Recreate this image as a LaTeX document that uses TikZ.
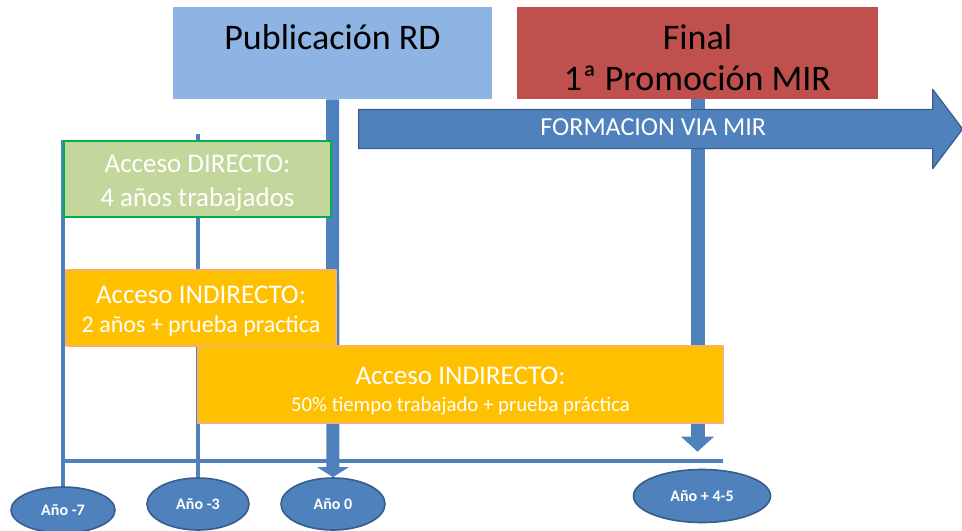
\documentclass[tikz,border=0pt]{standalone}
\usepackage{fontspec}
\setmainfont{Carlito}
\usetikzlibrary{arrows.meta,shapes.geometric,shapes.arrows,backgrounds}
\definecolor{pubblue}{HTML}{8EB4E3}
\definecolor{finred}{HTML}{C0504D}
\definecolor{midblue}{HTML}{4F81BD}
\definecolor{edgeblue}{HTML}{385D8A}
\definecolor{dirgreen}{HTML}{C3D69B}
\definecolor{dirline}{HTML}{00B050}
\definecolor{indorange}{HTML}{FFC000}
\definecolor{indline}{HTML}{F5B36A}
\begin{document}
\begin{tikzpicture}[x=0.5pt,y=-0.5pt, line join=round,
  box/.style={rectangle, inner sep=0pt, align=center},
  yearnode/.style={ellipse, draw=edgeblue, fill=midblue, line width=0.8pt, inner sep=0pt,
    text=white, font=\fontsize{8}{10}\selectfont\bfseries},
  tick/.style={midblue, line width=2pt},
  bigfont/.style={font=\fontsize{18}{20.5}\selectfont}]
\def \xmin{0};
\def \xmax{962};
\def \ymin{0};
\def \ymax{530};
\useasboundingbox (\xmin,\ymin) rectangle (\xmax,\ymax);
% titles
\node[box, fill=pubblue, bigfont, minimum width=159.5pt, minimum height=46pt] (pub) at (332.5,53) {Publicación RD\\[-4.5pt]\mbox{}};
\node[box, fill=finred, bigfont, minimum width=180.5pt, minimum height=46pt] (fin) at (697.5,53) {\rule{0pt}{17.5pt}Final\\1ª Promoción MIR};
\node[single arrow, anchor=tail, fill=midblue, draw=edgeblue, line width=0.6pt, inner xsep=0pt, inner ysep=4.5pt,
  text height=8pt, text depth=2pt, single arrow head extend=10pt, single arrow tip angle=106,
  minimum height=302pt, text=white, font=\fontsize{13}{14}\selectfont] (mir) at (358,129) {FORMACION VIA MIR};
% access boxes
\node[box, fill=dirgreen, draw=dirline, line width=1pt, text=white, font=\fontsize{13.5}{17}\selectfont,
  minimum width=133.5pt, minimum height=38pt] (directo) at (197.5,179) {\rule{0pt}{13pt}Acceso DIRECTO:\\4 años trabajados};
\node[box, fill=indorange, draw=indline, line width=0.8pt, text=white, minimum width=135pt, minimum height=38pt] (ind1) at (201,308)
  {\fontsize{13.5}{15}\selectfont\rule{0pt}{11.5pt}Acceso INDIRECTO:\\[2.5pt]\fontsize{12}{15}\selectfont 2 años + prueba practica};
\node[box, fill=indorange, draw=indline, line width=0.8pt, text=white, minimum width=262.5pt, minimum height=38.5pt] (ind2) at (460.5,384.5)
  {\fontsize{13.5}{14.5}\selectfont\rule{0pt}{15pt}Acceso INDIRECTO:\\[1.5pt]\fontsize{10.4}{14.5}\selectfont 50\% tiempo trabajado + prueba práctica};
% years
\foreach \n/\x/\y/\w/\h/\l in {y7/63/510/52/23/{Año -7}, y3/198/504/51/26/{Año -3}, y0/333/504/52/26/{Año 0}, y45/702/496/68.5/26.5/{Año + 4-5}}{
  \node[yearnode, minimum width=\w pt, minimum height=\h pt] (\n) at (\x,\y) {\l};}
\coordinate (t3) at (198,134);
\coordinate (hl) at (64,461);
\coordinate (hr) at (723,461);
\begin{scope}[on background layer]
\draw[tick] (directo.north west) -- (directo.north west |- y7.center);
\draw[tick] (t3) -- (y3.north);
\draw[tick] (hl) -- (hr);
\draw[midblue, line width=6.5pt, -{Triangle[width=15.5pt,length=5pt]}] (pub.south) -- (y0.north);
\draw[midblue, line width=7pt, -{Triangle[width=16pt,length=7.5pt]}, shorten >=8.5pt] (fin.south) -- (fin.south |- y45.north);
\end{scope}
\end{tikzpicture}
\end{document}
